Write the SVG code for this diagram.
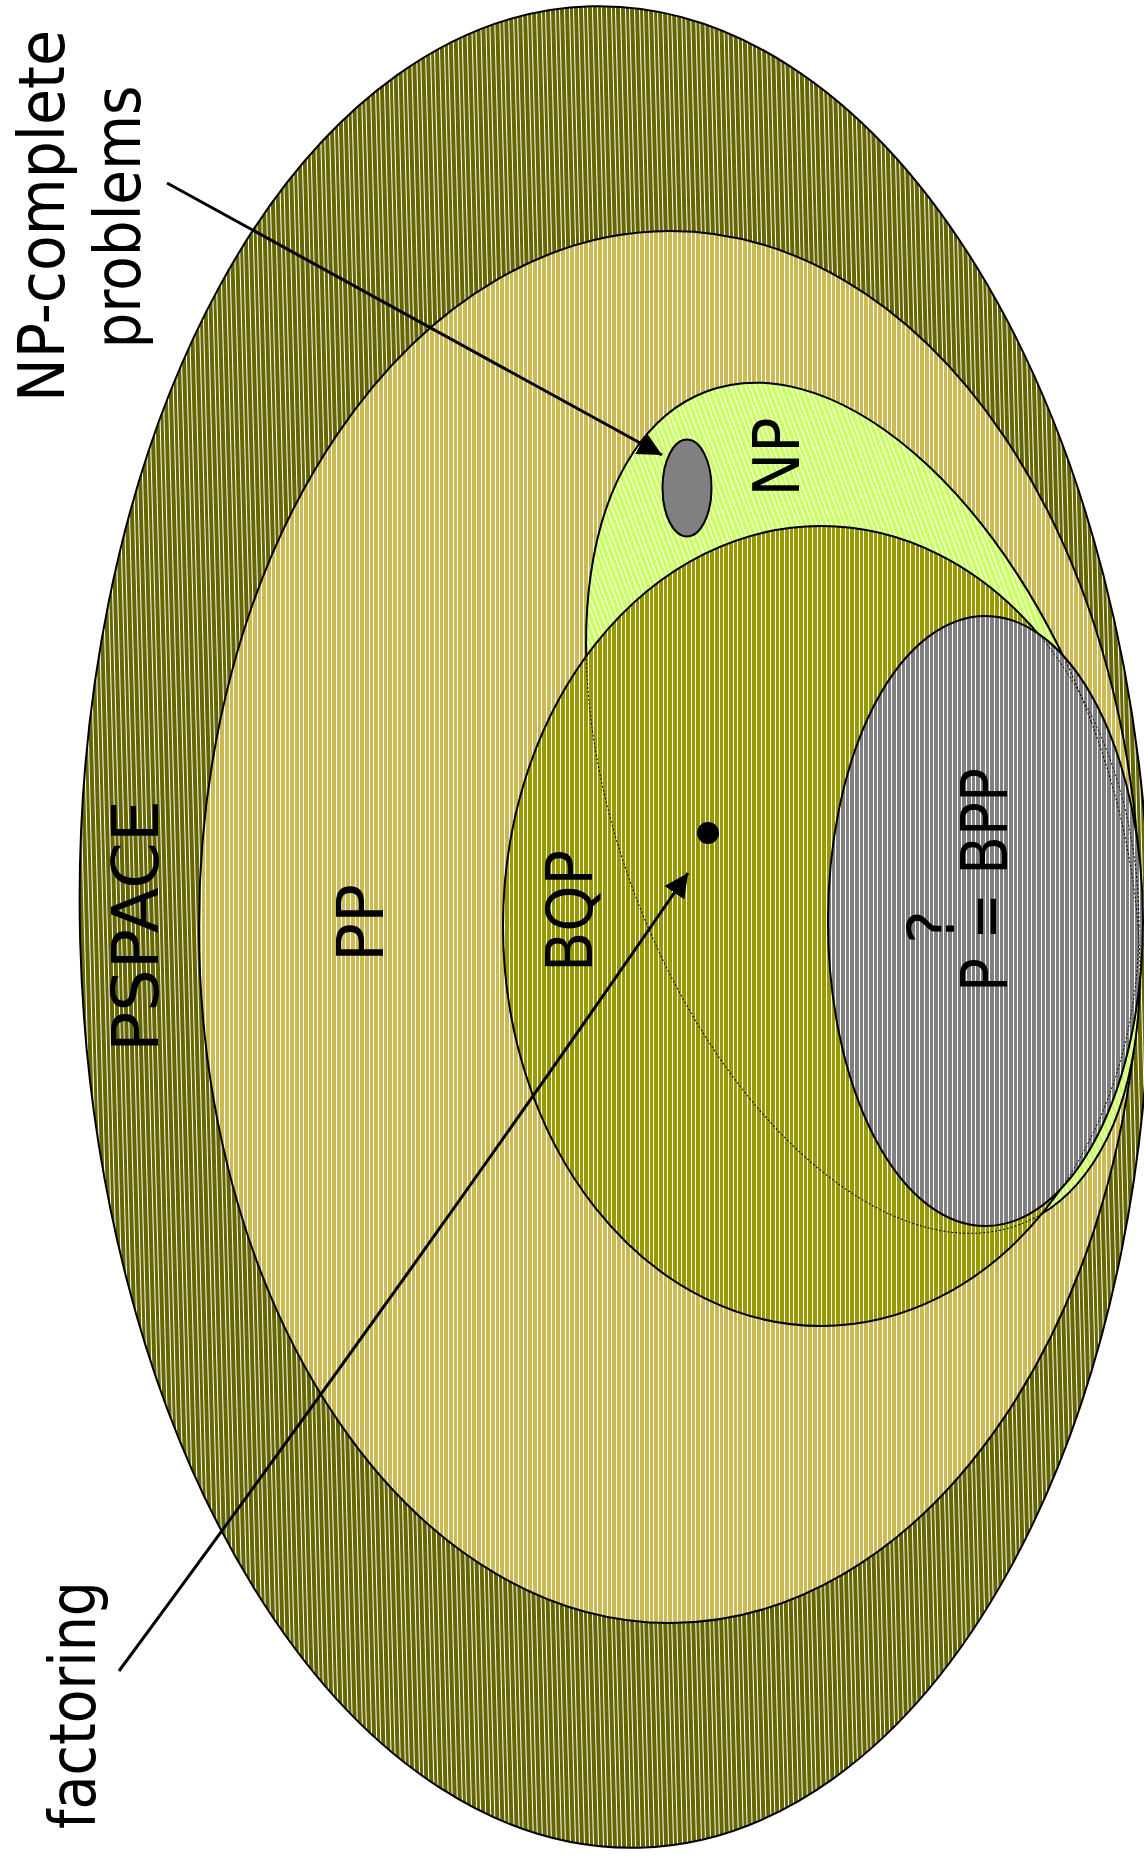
<svg xmlns="http://www.w3.org/2000/svg" width="1144" height="1860" viewBox="0 0 1144 1860">
<style>
.set{stroke:#000;stroke-width:2}
.lbl{font-family:"DejaVu Sans","Liberation Sans",sans-serif;font-size:64px;fill:#000;text-anchor:middle}
.conn{stroke:#000;stroke-width:3;fill:none}
</style>
<defs>
<pattern id="pPS" patternUnits="userSpaceOnUse" width="14" height="10"><rect width="14" height="10" fill="#666600"/><rect x="0" width="1" height="10" fill="#fff"/><rect x="5" width="1" height="10" fill="#fff"/><rect x="9" width="1" height="10" fill="#fff"/></pattern>
<pattern id="pPP" patternUnits="userSpaceOnUse" width="14" height="10"><rect width="14" height="10" fill="#ccbb55"/><rect x="0" width="1" height="10" fill="#fff"/><rect x="5" width="1" height="10" fill="#fff"/><rect x="9" width="1" height="10" fill="#fff"/></pattern>
<pattern id="pNP" patternUnits="userSpaceOnUse" width="14" height="10"><rect width="14" height="10" fill="#ccff66"/><rect x="0" width="1" height="10" fill="#fff"/><rect x="5" width="1" height="10" fill="#fff"/><rect x="9" width="1" height="10" fill="#fff"/></pattern>
<pattern id="pBQ" patternUnits="userSpaceOnUse" width="14" height="10"><rect width="14" height="10" fill="#999900"/><rect x="0" width="1" height="10" fill="#fff"/><rect x="5" width="1" height="10" fill="#fff"/><rect x="9" width="1" height="10" fill="#fff"/></pattern>
<pattern id="pP" patternUnits="userSpaceOnUse" width="14" height="10"><rect width="14" height="10" fill="#808080"/><rect x="0" width="1" height="10" fill="#fff"/><rect x="5" width="1" height="10" fill="#fff"/><rect x="9" width="1" height="10" fill="#fff"/></pattern>
<marker id="ah" viewBox="0 0 10 10" refX="10" refY="5" markerWidth="8" markerHeight="8" orient="auto" markerUnits="strokeWidth"><path d="M0,0 L10,5 L0,10 z" fill="#000"/></marker>
</defs>
<g id="pspace"><ellipse class="set" cx="615" cy="927" rx="535" ry="921" transform="rotate(-1.5 615 927)" fill="url(#pPS)"/><text class="lbl" transform="translate(158,926) rotate(-90)" textLength="252" lengthAdjust="spacingAndGlyphs">PSPACE</text></g>
<g id="pp"><ellipse class="set" cx="670" cy="927" rx="471" ry="696" fill="url(#pPP)"/><text class="lbl" transform="translate(383,923) rotate(-90)" textLength="78" lengthAdjust="spacingAndGlyphs">PP</text></g>
<g id="np"><ellipse class="set" cx="863" cy="808" rx="244" ry="445" transform="rotate(-20.6 863 808)" fill="url(#pNP)"/><text class="lbl" transform="translate(799,457) rotate(-90)" textLength="79" lengthAdjust="spacingAndGlyphs">NP</text></g>
<g id="bqp"><ellipse class="set" cx="821" cy="926" rx="318" ry="400" fill="url(#pBQ)"/><text class="lbl" transform="translate(592,911) rotate(-90)" textLength="122" lengthAdjust="spacingAndGlyphs">BQP</text></g>
<g id="p-bpp"><ellipse class="set" cx="985.5" cy="921" rx="157.5" ry="305" fill="url(#pP)"/><text class="lbl" transform="translate(1007,880) rotate(-90)" textLength="224" lengthAdjust="spacingAndGlyphs">P = BPP</text><text class="lbl" transform="translate(954,927) rotate(-90)">?</text></g>
<g id="hidden-outlines" fill="none" stroke="#000" stroke-width="1" stroke-dasharray="2 2">
<ellipse cx="863" cy="808" rx="244" ry="445" transform="rotate(-20.6 863 808)"/>
<ellipse cx="821" cy="926" rx="318" ry="400"/>
</g>
<g id="np-complete"><ellipse cx="687" cy="488" rx="24.5" ry="48.5" fill="#808080" stroke="#000" stroke-width="2"/><text class="lbl" transform="translate(64,216) rotate(-90)" textLength="372" lengthAdjust="spacingAndGlyphs">NP-complete</text><text class="lbl" transform="translate(140,217) rotate(-90)" textLength="263" lengthAdjust="spacingAndGlyphs">problems</text></g>
<g id="factoring"><circle cx="708" cy="833" r="11" fill="#000"/><text class="lbl" transform="translate(95,1705) rotate(-90)" textLength="248" lengthAdjust="spacingAndGlyphs">factoring</text></g>
<g id="connectors">
<path class="conn" d="M167,183 L662,455" marker-end="url(#ah)"/>
<path class="conn" d="M119,1671 Q410,1277 688,873" marker-end="url(#ah)"/>
</g>
</svg>
